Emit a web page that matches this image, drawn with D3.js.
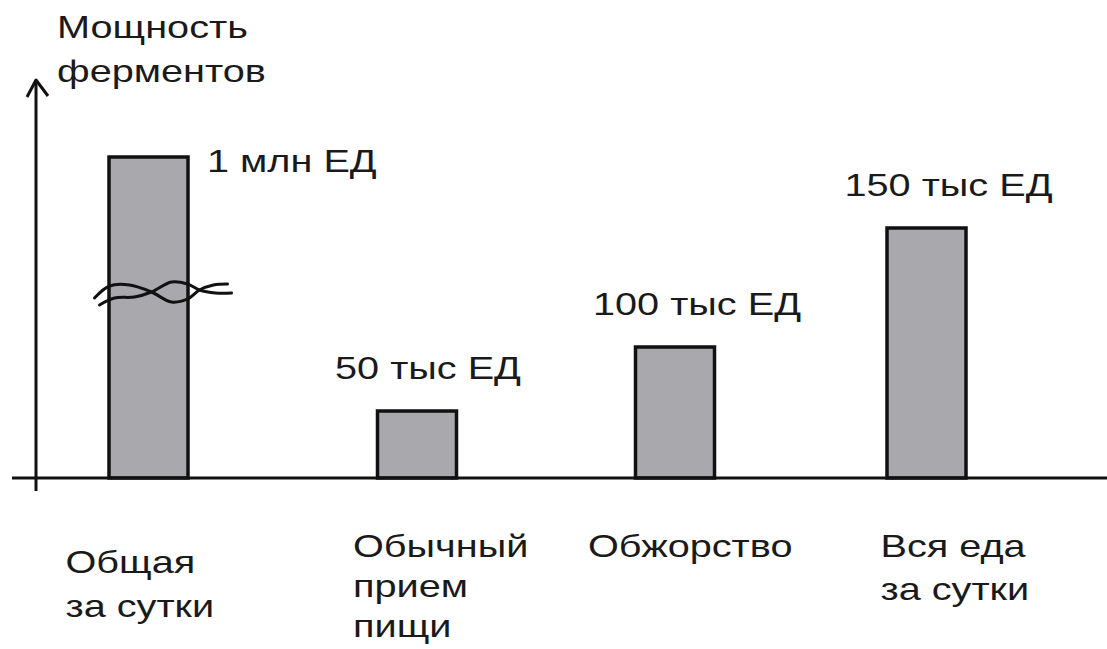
<!DOCTYPE html>
<html>
<head>
<meta charset="utf-8">
<script src="https://cdn.jsdelivr.net/npm/d3@7"></script>
<style>
  body { margin: 0; background: #fff; }
  svg text { font-family: "Liberation Sans", Arial, sans-serif; fill: #1a1a1a; }
</style>
</head>
<body>
<div id="chart"></div>
<script>
// Categories and their labels (multi-line)
const categories = ['Общая за сутки', 'Обычный прием пищи', 'Обжорство', 'Вся еда за сутки'];
const categoryLines = [['Общая', 'за сутки'], ['Обычный', 'прием', 'пищи'], ['Обжорство'], ['Вся еда', 'за сутки']];
// Value labels as printed over the bars
const valueLabels = ['1 млн ЕД', '50 тыс ЕД', '100 тыс ЕД', '150 тыс ЕД'];
// Drawn bar heights (relative units, the first bar is shown broken)
const barLevels = [321, 67, 131, 250];
const brokenBar = 'Общая за сутки';
const axisTitle = ['Мощность', 'ферментов'];

const width = 1107, height = 649;
const baseY = 478, axisX = 36;
const stretch = 1.24;   // the original lettering is wide

const svg = d3.select('#chart').append('svg')
    .attr('width', width)
    .attr('height', height);

// scales
const x = d3.scaleOrdinal()
    .domain(categories)
    .range([148.5, 417, 675, 926.5]);
const y = d3.scaleLinear()
    .domain([0, 400])
    .range([baseY, baseY - 400]);
const barW = 79;

const data = categories.map((c, i) => ({ cat: c, level: barLevels[i], label: valueLabels[i], lines: categoryLines[i] }));

// wide text helper
function wideText(sel, tx, ty) {
    return sel.attr('x', 0).attr('y', 0)
        .attr('font-size', 32)
        .attr('transform', (d, i) => `translate(${tx(d, i)},${ty(d, i)}) scale(${stretch},1)`);
}

// bars
svg.selectAll('rect.bar')
    .data(data)
    .join('rect')
    .attr('class', 'bar')
    .attr('x', d => x(d.cat) - barW / 2)
    .attr('y', d => y(d.level))
    .attr('width', barW)
    .attr('height', d => y(0) - y(d.level))
    .attr('fill', '#a9a9ad')
    .attr('stroke', '#111')
    .attr('stroke-width', 3.5);

// axes
svg.append('line')
    .attr('x1', 12).attr('x2', width)
    .attr('y1', baseY).attr('y2', baseY)
    .attr('stroke', '#111').attr('stroke-width', 3);
svg.append('line')
    .attr('x1', axisX).attr('x2', axisX)
    .attr('y1', 491).attr('y2', 80)
    .attr('stroke', '#111').attr('stroke-width', 3);
// arrow head
svg.append('path')
    .attr('d', d3.line()([[27, 97], [axisX, 80], [48, 96]]))
    .attr('fill', 'none')
    .attr('stroke', '#111').attr('stroke-width', 3)
    .attr('stroke-linejoin', 'round');

// axis title
wideText(svg.append('text').datum(axisTitle), () => 57, () => 38)
    .selectAll('tspan')
    .data(axisTitle)
    .join('tspan')
    .attr('x', 0)
    .attr('dy', (d, i) => i ? 44 : 0)
    .text(d => d);

// value labels
wideText(svg.selectAll('text.value')
    .data(data)
    .join('text')
    .attr('class', 'value'),
    d => d.cat === brokenBar ? x(d.cat) + barW / 2 + 19 : x(d.cat) - 82,
    d => d.cat === brokenBar ? y(d.level) + 15 : y(d.level) - 32)
    .text(d => d.label);

// category labels
const catOffsets = [-83, -64, -87, -46];
const catBase = [573, 557, 557, 557];
const catStep = [44, 40, 42, 43];
wideText(svg.selectAll('text.cat')
    .data(data)
    .join('text')
    .attr('class', 'cat'),
    (d, i) => x(d.cat) + catOffsets[i],
    (d, i) => catBase[i])
    .each(function (d, i) {
        d3.select(this).selectAll('tspan')
            .data(d.lines)
            .join('tspan')
            .attr('x', 0)
            .attr('dy', (t, j) => j ? catStep[i] : 0)
            .text(t => t);
    });

// break mark on the first bar
const bx = x(brokenBar);
const by = 292;
const wave = d3.line().curve(d3.curveCatmullRom);
[[[95, 298], [110, 286], [130, 285], [152, 292], [172, 302], [188, 299], [200, 290], [214, 285], [228, 284]],
 [[100, 305], [115, 298], [135, 297], [152, 292], [172, 282], [188, 284], [200, 290], [216, 293], [232, 293]]]
    .forEach(pts => {
        svg.append('path')
            .attr('d', wave(pts.map(p => [bx + p[0] - 149, by + p[1] - 292])))
            .attr('fill', 'none')
            .attr('stroke', '#111')
            .attr('stroke-width', 3)
            .attr('stroke-linecap', 'round');
    });
</script>
</body>
</html>
